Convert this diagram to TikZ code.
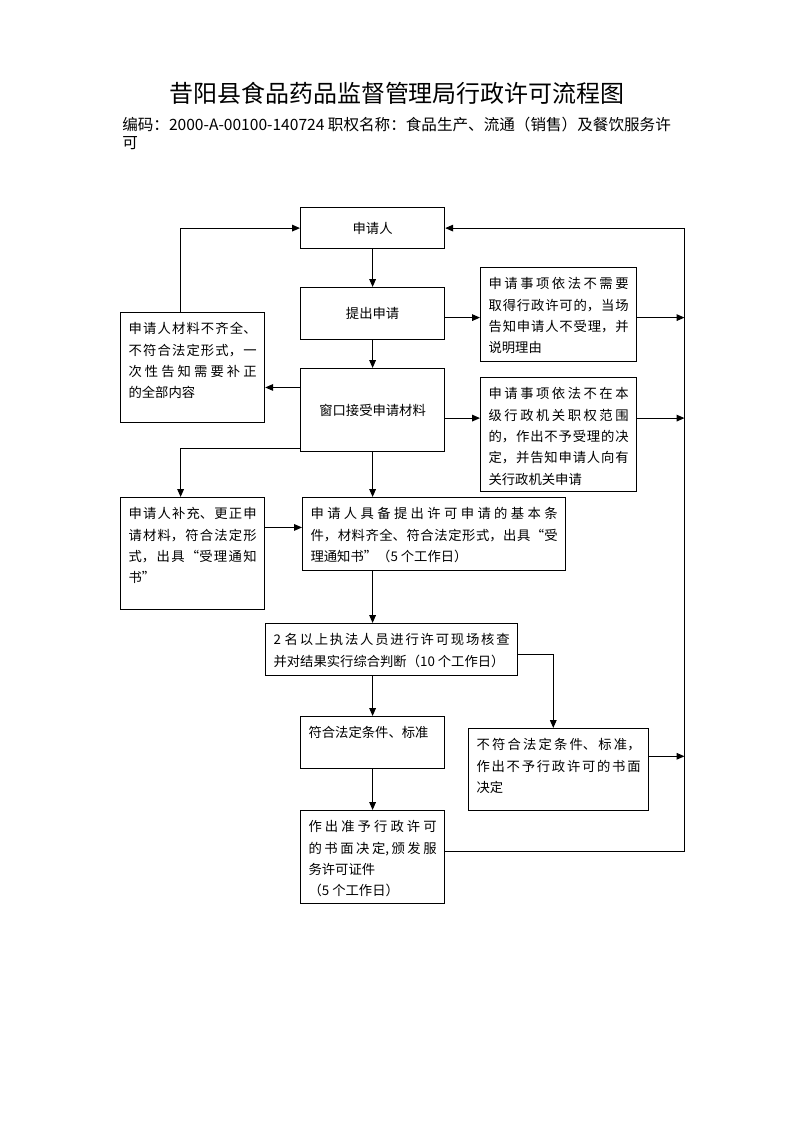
\documentclass[tikz,border=0pt]{standalone}
\usepackage{fontspec}
\setmainfont{Noto Sans CJK SC}
\usetikzlibrary{arrows.meta}
\XeTeXlinebreaklocale "zh"
\XeTeXlinebreakskip=0pt plus 3pt
\tolerance=9999
\hbadness=10000

\tikzset{
  box/.style={draw, line width=0.9pt, anchor=north west, inner xsep=6pt, inner ysep=8pt,
    text height=8pt, align=justify, font=\fontsize{10}{16}\selectfont},
  sz/.style 2 args={text width={#1*0.7507pt-12pt}, text depth={#2*0.7507pt-24pt}},
  cbox/.style 2 args={draw, line width=0.9pt, anchor=north west, inner sep=0pt,
    minimum width={#1*0.7507pt}, minimum height={#2*0.7507pt}, font=\fontsize{10}{16}\selectfont},
  flow/.style={-{Triangle[length=6pt,width=5pt]}, line width=0.8pt}
}

\begin{document}
\begin{tikzpicture}[x=0.7507pt,y=-0.7507pt]
\useasboundingbox (0,0) rectangle (793,1122);
\node[font=\fontsize{18}{22}\selectfont] (title) at (397,93) {昔阳县食品药品监督管理局行政许可流程图};
\node[anchor=north west, inner sep=0pt, align=left, font=\fontsize{11.7}{13.5}\selectfont] (code) at (122,117)
  {编码：2000-A-00100-140724 职权名称：食品生产、流通（销售）及餐饮服务许\\可};

\node[cbox={144}{41}] (apply) at (300,207) {申请人};
\node[cbox={144}{52}] (submit) at (300,287) {提出申请};
\node[cbox={144}{83}] (window) at (300,368) {窗口接受申请材料};
\node[box, sz={156}{94}] (noneed) at (480,267) {申请事项依法不需要\linebreak 取得行政许可的，当场\linebreak 告知申请人不受理，并\linebreak 说明理由};
\node[box, sz={156}{114}] (notours) at (480,377) {申请事项依法不在本\linebreak 级行政机关职权范围\linebreak 的，作出不予受理的决\linebreak 定，并告知申请人向有\linebreak 关行政机关申请};
\node[box, sz={144}{110}] (incomplete) at (120,312) {申请人材料不齐全、\linebreak 不符合法定形式，一\linebreak 次性告知需要补正\linebreak 的全部内容};
\node[box, sz={144}{112}] (amend) at (120,497) {申请人补充、更正申\linebreak 请材料，符合法定形\linebreak 式，出具“受理通知\linebreak 书”};
\node[box, sz={263}{73}] (accepted) at (302,497) {申请人具备提出许可申请的基本条\linebreak 件，材料齐全、符合法定形式，出具“受\linebreak 理通知书”（5 个工作日）};
\node[box, sz={252}{52}] (inspect) at (265,623) {2 名以上执法人员进行许可现场核查\linebreak 并对结果实行综合判断（10 个工作日）};
\node[box, sz={144}{52}] (conform) at (300,716) {符合法定条件、标准};
\node[box, sz={180}{82}] (reject) at (468,728) {不符合法定条件、标准，\linebreak 作出不予行政许可的书面\linebreak 决定};
\node[box, sz={144}{93}] (grant) at (300,810) {作出准予行政许可\linebreak 的书面决定,颁发服\linebreak 务许可证件\\（5 个工作日）};
\coordinate (rail) at (684.5,0);

\draw[flow] (apply) -- (submit);
\draw[flow] (submit) -- (window);
\coordinate (s1) at ([yshift=-3pt]submit.east);
\draw[flow] (s1) -- (s1 -| noneed.west);
\draw[flow] (s1 -| noneed.east) -- (s1 -| rail);
\coordinate (w1) at ([yshift=-6pt]window.east);
\draw[flow] (w1) -- (w1 -| notours.west);
\draw[flow] (w1 -| notours.east) -- (w1 -| rail);
\coordinate (w2) at ([yshift=17pt]window.west);
\draw[flow] (w2) -- (w2 -| incomplete.east);
\draw[flow] ([xshift=-9pt]incomplete.north) |- (apply.west);
\draw[flow] ([yshift=3pt]window.south west) -| ([xshift=-9pt]amend.north);
\draw[flow] (window) -- (accepted.north -| window);
\coordinate (a1) at ([yshift=5pt]accepted.west);
\draw[flow] (a1 -| amend.east) -- (a1);
\draw[flow] (accepted.south -| window) -- (inspect.north -| window);
\draw[flow] (inspect.south -| window) -- (conform);
\draw[flow] ([yshift=-4pt]inspect.east) -| ([xshift=-4pt]reject.north);
\draw[flow] (conform) -- (grant);
\coordinate (r1) at ([yshift=10pt]reject.east);
\draw[flow] (r1) -- (r1 -| rail);
\draw[flow] ([yshift=4pt]grant.east) -| (rail |- apply) -- (apply);
\end{tikzpicture}
\end{document}
